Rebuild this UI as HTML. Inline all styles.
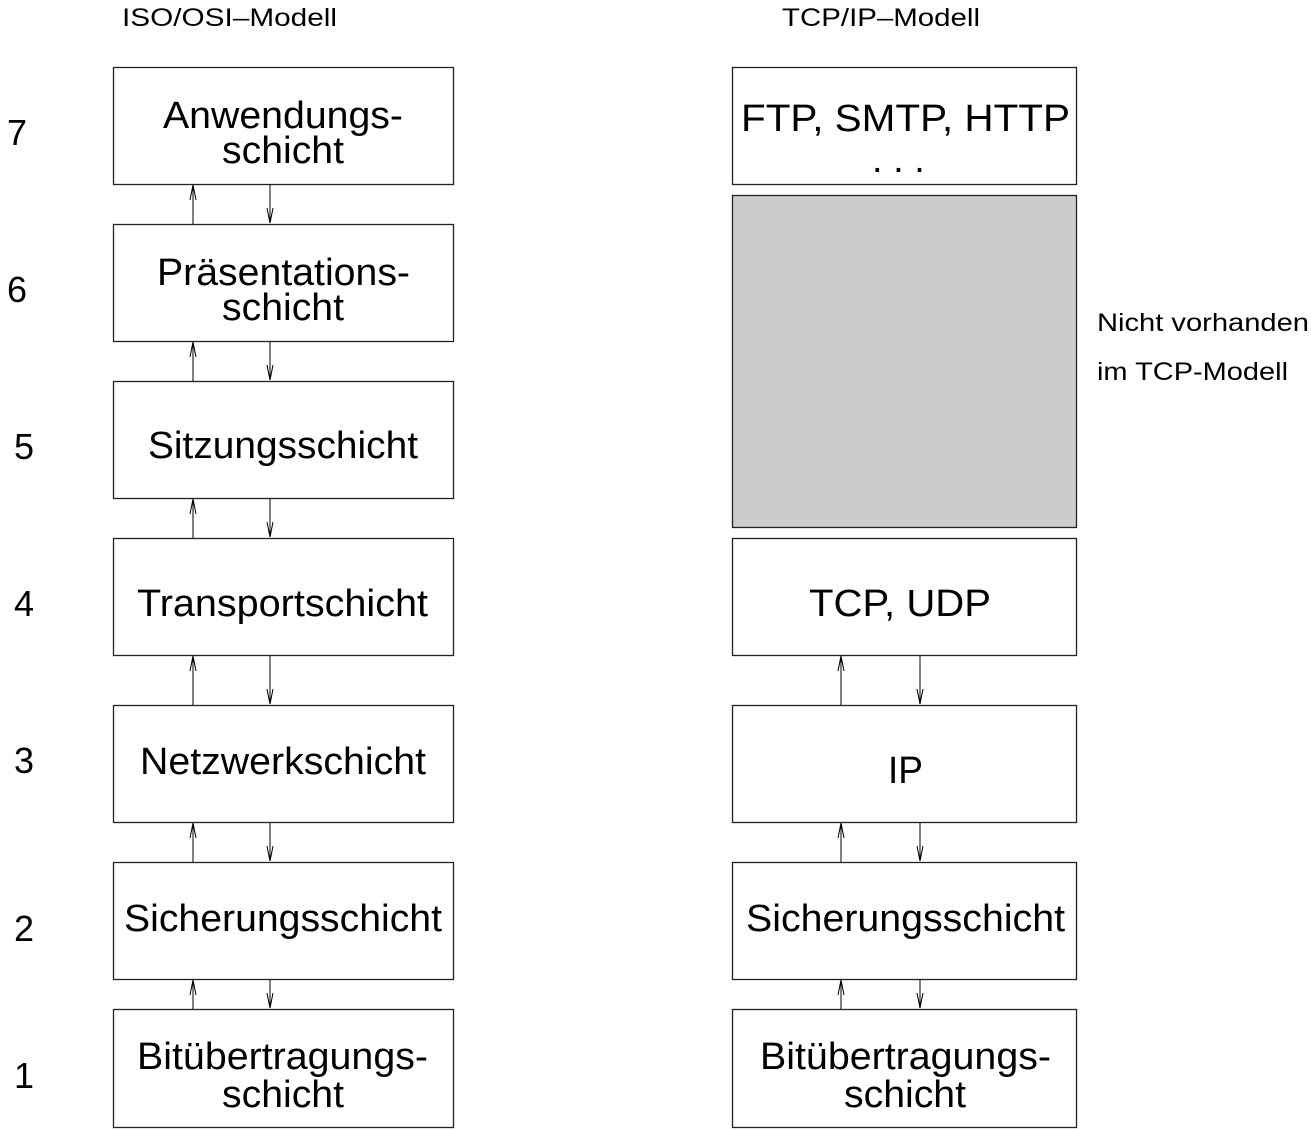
<!DOCTYPE html>
<html><head><meta charset="utf-8"><style>
html,body{margin:0;padding:0;background:#fff;}
svg{display:block;}
text{font-family:"Liberation Sans",Arial,sans-serif;fill:#000;}
</style></head><body>
<svg width="1311" height="1131" viewBox="0 0 1311 1131" xmlns="http://www.w3.org/2000/svg">
<g fill="none" stroke="#222" stroke-width="1.3">
<rect x="113.5" y="67.5" width="340" height="117"/>
<rect x="113.5" y="224.5" width="340" height="117"/>
<rect x="113.5" y="381.5" width="340" height="117"/>
<rect x="113.5" y="538.5" width="340" height="117"/>
<rect x="113.5" y="705.5" width="340" height="117"/>
<rect x="113.5" y="862.5" width="340" height="117"/>
<rect x="113.5" y="1009.5" width="340" height="118"/>
<rect x="732.5" y="67.5" width="344" height="117"/>
<rect x="732.5" y="195.5" width="344" height="332" fill="#cccccc"/>
<rect x="732.5" y="538.5" width="344" height="117"/>
<rect x="732.5" y="705.5" width="344" height="117"/>
<rect x="732.5" y="862.5" width="344" height="117"/>
<rect x="732.5" y="1009.5" width="344" height="118"/>
</g>
<g stroke="#000" stroke-width="1" fill="none">
<path d="M193 224V185 M190 200L193 185L196 200 M270 185V223 M267 208L270 223L273 208"/>
<path d="M193 381V342 M190 357L193 342L196 357 M270 342V380 M267 365L270 380L273 365"/>
<path d="M193 538V499 M190 514L193 499L196 514 M270 499V537 M267 522L270 537L273 522"/>
<path d="M193 705V656 M190 671L193 656L196 671 M270 656V704 M267 689L270 704L273 689"/>
<path d="M193 862V823 M190 838L193 823L196 838 M270 823V861 M267 846L270 861L273 846"/>
<path d="M193 1009V980 M190 995L193 980L196 995 M270 980V1008 M267 993L270 1008L273 993"/>
<path d="M841 705V656 M838 671L841 656L844 671 M920 656V704 M917 689L920 704L923 689"/>
<path d="M841 862V823 M838 838L841 823L844 838 M920 823V861 M917 846L920 861L923 846"/>
<path d="M841 1009V980 M838 995L841 980L844 995 M920 980V1008 M917 993L920 1008L923 993"/>
</g>
<g font-size="25">
<text x="122" y="26" textLength="215" lengthAdjust="spacingAndGlyphs">ISO/OSI–Modell</text>
<text x="782" y="26" textLength="198" lengthAdjust="spacingAndGlyphs">TCP/IP–Modell</text>
<text x="1097" y="331" textLength="212" lengthAdjust="spacingAndGlyphs">Nicht vorhanden</text>
<text x="1097" y="380" textLength="191" lengthAdjust="spacingAndGlyphs">im TCP-Modell</text>
</g>
<g font-size="36">
<text x="7" y="145">7</text>
<text x="7" y="302">6</text>
<text x="14" y="459">5</text>
<text x="14" y="616">4</text>
<text x="14" y="773">3</text>
<text x="14" y="941">2</text>
<text x="14" y="1088">1</text>
</g>
<g font-size="38">
<text x="163" y="128" textLength="240" lengthAdjust="spacingAndGlyphs">Anwendungs-</text>
<text x="222" y="163" textLength="122" lengthAdjust="spacingAndGlyphs">schicht</text>
<text x="157" y="285" textLength="253" lengthAdjust="spacingAndGlyphs">Präsentations-</text>
<text x="222" y="320" textLength="122" lengthAdjust="spacingAndGlyphs">schicht</text>
<text x="148" y="458" textLength="270" lengthAdjust="spacingAndGlyphs">Sitzungsschicht</text>
<text x="137" y="616" textLength="291" lengthAdjust="spacingAndGlyphs">Transportschicht</text>
<text x="140" y="774" textLength="286" lengthAdjust="spacingAndGlyphs">Netzwerkschicht</text>
<text x="124" y="931" textLength="318" lengthAdjust="spacingAndGlyphs">Sicherungsschicht</text>
<text x="137" y="1069" textLength="291" lengthAdjust="spacingAndGlyphs">Bitübertragungs-</text>
<text x="222" y="1107" textLength="122" lengthAdjust="spacingAndGlyphs">schicht</text>
<text x="741" y="131" textLength="329" lengthAdjust="spacingAndGlyphs">FTP, SMTP, HTTP</text>
<text x="872" y="172">. . .</text>
<text x="809" y="616" textLength="182" lengthAdjust="spacingAndGlyphs">TCP, UDP</text>
<text x="888" y="783" textLength="35" lengthAdjust="spacingAndGlyphs">IP</text>
<text x="746" y="931" textLength="319" lengthAdjust="spacingAndGlyphs">Sicherungsschicht</text>
<text x="760" y="1069" textLength="291" lengthAdjust="spacingAndGlyphs">Bitübertragungs-</text>
<text x="844" y="1107" textLength="122" lengthAdjust="spacingAndGlyphs">schicht</text>
</g>
</svg>
</body></html>
